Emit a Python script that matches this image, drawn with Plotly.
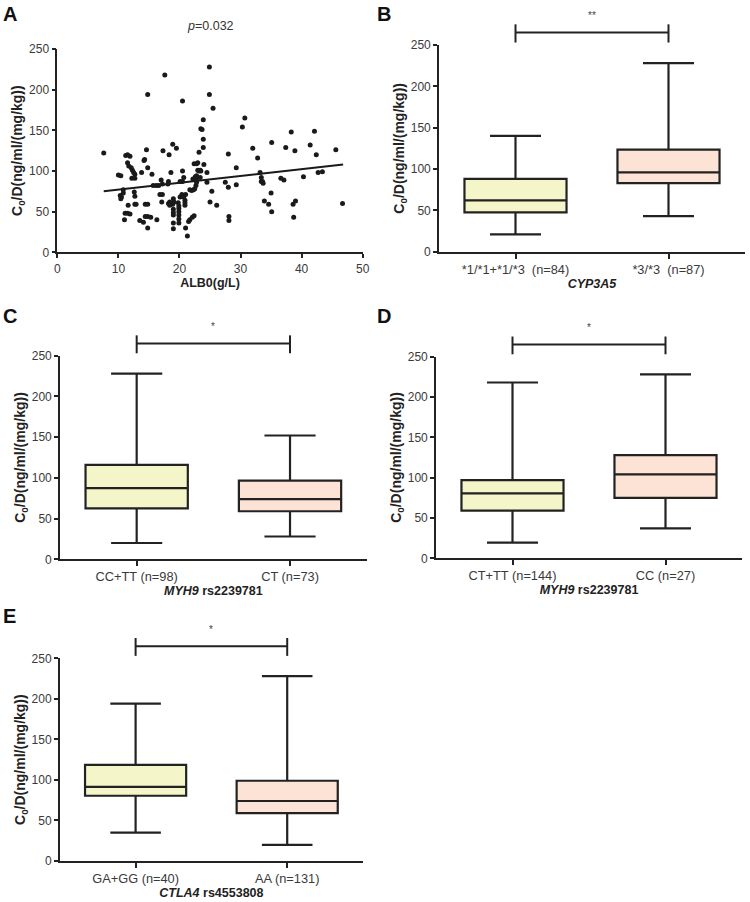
import plotly.graph_objects as go

# ---------------- Data ----------------
alb0 = [7.6, 10.0, 10.4, 10.3, 10.5, 10.8, 10.4, 10.8, 11.1, 11.5, 11.9, 11.0, 11.2, 11.5, 11.9,
        11.5, 11.7, 12.1, 11.6, 12.3, 12.5, 12.7, 12.2, 12.7, 12.6, 12.7, 12.7, 12.9, 13.5, 14.1,
        13.8, 14.2, 14.3, 14.6, 14.8, 14.4, 14.8, 14.4, 14.8, 15.3, 14.8, 14.8, 15.5, 15.7, 16.2,
        16.6, 16.3, 17.0, 17.2, 16.8, 17.2, 17.1, 17.3, 17.6, 18.1, 18.2, 18.3, 18.6, 18.4, 18.7,
        18.9, 18.2, 18.4, 18.9, 19.0, 19.1, 19.0, 19.0, 19.0, 19.0, 19.0, 19.5, 19.8, 20.1, 20.4,
        20.7, 21.0, 19.9, 19.9, 19.9, 19.9, 19.9, 19.9, 20.1, 20.5, 20.5, 20.5, 20.9, 20.9, 20.9,
        20.7, 21.0, 21.3, 21.5, 21.7, 22.1, 22.4, 21.7, 22.0, 22.3, 22.5, 22.2, 22.6, 22.8, 22.4,
        22.8, 22.7, 23.0, 23.2, 23.4, 23.5, 23.0, 23.2, 22.8, 22.8, 23.4, 23.5, 23.7, 23.9, 23.9,
        23.9, 24.0, 24.5, 24.5, 24.9, 24.9, 25.0, 25.3, 25.5, 26.1, 27.5, 28.0, 28.0, 28.1, 28.1,
        29.3, 29.3, 30.3, 30.7, 32.0, 32.8, 33.2, 33.4, 33.6, 33.7, 33.4, 33.9, 34.6, 35.0, 35.1,
        35.1, 36.6, 37.1, 37.4, 38.3, 38.6, 39.0, 38.7, 38.9, 40.3, 41.4, 42.1, 42.4, 42.7, 43.4,
        45.6, 46.7]
c0d = [122, 95, 94, 70, 68, 73, 66, 77, 48, 48, 47, 40, 119, 120, 118,
       110, 106, 104, 58, 101, 98, 96, 91, 91, 74, 69, 59, 59, 39, 37,
       98, 113, 114, 126, 104, 59, 59, 44, 44, 43, 30, 194, 96, 82, 82,
       82, 40, 89, 84, 71, 71, 62, 125, 218, 84, 87, 120, 98, 62, 60,
       59, 60, 58, 133, 66, 62, 53, 49, 46, 36, 29, 128, 61, 68, 71,
       68, 71, 57, 54, 50, 46, 41, 36, 87, 87, 100, 186, 64, 61, 58,
       92, 30, 20, 38, 40, 43, 45, 77, 76, 77, 78, 90, 93, 94, 109,
       109, 82, 101, 100, 101, 100, 110, 123, 86, 89, 92, 152, 151, 163, 139,
       129, 108, 98, 86, 228, 194, 62, 75, 177, 58, 86, 121, 80, 44, 39,
       104, 83, 154, 165, 128, 116, 98, 87, 87, 85, 92, 63, 59, 73, 50,
       135, 91, 89, 129, 148, 59, 63, 43, 125, 93, 132, 149, 120, 98, 99,
       126, 60]
trend_x = [7.6, 46.8]
trend_y = [75, 108]

# Box panels: [group1, group2] stats
b_cats = ["*1/*1+*1/*3\u00a0\u00a0(n=84)", "*3/*3\u00a0\u00a0(n=87)"]
b_low = [21, 43]; b_q1 = [47.5, 83]; b_med = [62, 96]; b_q3 = [88, 123.5]; b_high = [140, 228]

c_cats = ["CC+TT (n=98)", "CT (n=73)"]
c_low = [20, 28]; c_q1 = [62.5, 59]; c_med = [87.5, 74]; c_q3 = [116, 96.5]; c_high = [228, 152]

d_cats = ["CT+TT (n=144)", "CC (n=27)"]
d_low = [19.5, 37]; d_q1 = [59, 75]; d_med = [80.5, 104]; d_q3 = [97, 128]; d_high = [218, 228]

e_cats = ["GA+GG (n=40)", "AA (n=131)"]
e_low = [35, 20]; e_q1 = [80.5, 59]; e_med = [91.5, 74]; e_q3 = [118.5, 99]; e_high = [194, 228]

box_fills = ["#F4F5C9", "#FDE2D6"]
sig_labels = ["**", "*", "*", "*"]

W, H = 750, 902
FONT = "Arial, Liberation Sans, sans-serif"
INK = "#222222"
TICKC = "#3a3a3a"

def px_dom(a, b, total, invert=False):
    if invert:
        return [1 - b / total, 1 - a / total]
    return [a / total, b / total]

fig = go.Figure()

# ---------------- Panel A ----------------
fig.add_trace(go.Scatter(x=alb0, y=c0d, mode="markers",
                         marker=dict(color="#1a1a1a", size=5),
                         xaxis="x", yaxis="y", showlegend=False))
fig.add_trace(go.Scatter(x=trend_x, y=trend_y, mode="lines",
                         line=dict(color="#1a1a1a", width=2),
                         xaxis="x", yaxis="y", showlegend=False))

panels = [
    ("2", b_cats, b_low, b_q1, b_med, b_q3, b_high, (439, 745), (45, 251.7), "<b><i>CYP3A5</i></b>"),
    ("3", c_cats, c_low, c_q1, c_med, c_q3, c_high, (60, 366.7), (355.7, 559.3), "<b><i>MYH9</i> rs2239781</b>"),
    ("4", d_cats, d_low, d_q1, d_med, d_q3, d_high, (436, 742), (356.7, 558.3), "<b><i>MYH9</i> rs2239781</b>"),
    ("5", e_cats, e_low, e_q1, e_med, e_q3, e_high, (59.8, 363), (658.3, 861), "<b><i>CTLA4</i> rs4553808</b>"),
]

ytitle = "<b>C<sub>0</sub>/D(ng/ml/(mg/kg))</b>"
tickfont = dict(family=FONT, size=12, color=TICKC)
xcatfont = dict(family=FONT, size=12.8, color=TICKC)
titlefont = dict(family=FONT, size=12.5, color=INK)
ytitlefont = dict(family=FONT, size=14, color=INK)

common_axis = dict(showline=True, linecolor=INK, linewidth=1.6, ticks="outside",
                   tickcolor=INK, tickwidth=1.6, ticklen=4, showgrid=False,
                   zeroline=False, tickfont=tickfont, mirror=False, automargin=False)

layout = dict(
    template="none",
    width=W, height=H, margin=dict(l=0, r=0, t=0, b=0, pad=0),
    paper_bgcolor="white", plot_bgcolor="white",
    font=dict(family=FONT, color=INK), showlegend=False, boxmode="overlay",
)

layout["xaxis"] = dict(common_axis, domain=px_dom(57.3, 362.7, W), range=[0, 50],
                       tickvals=[0, 10, 20, 30, 40, 50], anchor="y",
                       title=dict(text="<b>ALB0(g/L)</b>", font=titlefont, standoff=4))
layout["yaxis"] = dict(common_axis, domain=px_dom(49, 252.3, H, invert=True), range=[0, 250],
                       tickvals=[0, 50, 100, 150, 200, 250], anchor="x",
                       title=dict(text=ytitle, font=ytitlefont, standoff=3))

annotations = []
shapes = []

annotations.append(dict(text="<i>p</i>=0.032", xref="x domain", yref="y domain", x=0.5, y=1.115,
                        showarrow=False, font=dict(family=FONT, size=12.5, color="#333333"),
                        xanchor="center", yanchor="middle"))

for i, (sfx, cats, low, q1, med, q3, high, xpx, ypx, xt) in enumerate(panels):
    for j in range(2):
        fig.add_trace(go.Box(
            x=[cats[j]], q1=[q1[j]], median=[med[j]], q3=[q3[j]],
            lowerfence=[low[j]], upperfence=[high[j]],
            fillcolor=box_fills[j], line=dict(color=INK, width=2.2),
            width=0.667, whiskerwidth=0.5, boxpoints=False,
            xaxis="x" + sfx, yaxis="y" + sfx, showlegend=False, hoverinfo="skip"))
    layout["xaxis" + sfx] = dict(common_axis, domain=px_dom(xpx[0], xpx[1], W), type="category",
                                 categoryorder="array", categoryarray=cats, range=[-0.5, 1.5],
                                 anchor="y" + sfx, tickfont=xcatfont, ticklen=5,
                                 title=dict(text=xt, font=titlefont, standoff=2))
    layout["yaxis" + sfx] = dict(common_axis, domain=px_dom(ypx[0], ypx[1], H, invert=True),
                                 range=[0, 250], tickvals=[0, 50, 100, 150, 200, 250],
                                 anchor="x" + sfx,
                                 title=dict(text=ytitle, font=ytitlefont, standoff=3))
    yb = 265 / 250.0
    ylo = 253 / 250.0
    yhi = 275 / 250.0
    line = dict(color=INK, width=2)
    shapes.append(dict(type="line", xref="x%s domain" % sfx, yref="y%s domain" % sfx,
                       x0=0.25, x1=0.75, y0=yb, y1=yb, line=line))
    shapes.append(dict(type="line", xref="x%s domain" % sfx, yref="y%s domain" % sfx,
                       x0=0.25, x1=0.25, y0=ylo, y1=yhi, line=line))
    shapes.append(dict(type="line", xref="x%s domain" % sfx, yref="y%s domain" % sfx,
                       x0=0.75, x1=0.75, y0=ylo, y1=yhi, line=line))
    annotations.append(dict(text=sig_labels[i], xref="x%s domain" % sfx, yref="y%s domain" % sfx,
                            x=0.5, y=286 / 250.0, showarrow=False,
                            font=dict(family=FONT, size=10, color="#444444"),
                            xanchor="center", yanchor="middle"))

for letter, xp, yp in [("A", 1, 1), ("B", 375, 1), ("C", 1, 303), ("D", 375, 303), ("E", 1, 603)]:
    annotations.append(dict(text="<b>%s</b>" % letter, xref="paper", yref="paper",
                            x=xp / W, y=1 - yp / H, xanchor="left", yanchor="top",
                            showarrow=False, font=dict(family=FONT, size=20, color="#111111")))

layout["annotations"] = annotations
layout["shapes"] = shapes
fig.update_layout(**layout)

fig.write_html("out.html", config={"displayModeBar": False},
               post_script="document.body.style.margin='0';document.body.style.overflow='hidden';")
